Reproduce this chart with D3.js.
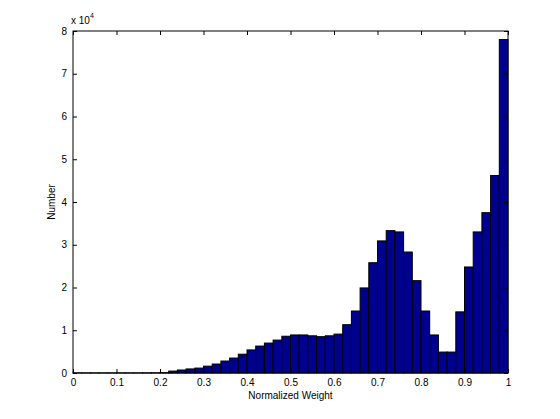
<!DOCTYPE html>
<html>
<head>
<meta charset="utf-8">
<script src="https://cdn.jsdelivr.net/npm/d3@7"></script>
<style>
  html, body { margin: 0; padding: 0; background: #fff; }
  svg text { font-family: "Liberation Sans", Arial, sans-serif; font-size: 10px; fill: #000; }
</style>
</head>
<body>
<svg id="chart" width="560" height="419"></svg>
<script>
// Histogram of normalized weights — 50 bins of width 0.02 over [0, 1].
const binEdges = d3.range(0, 50).map((i) => i * 0.02);
const binWidth = 0.02;
const counts = [
  20, 20, 20, 20, 20, 20, 20, 20, 30, 40,
  80, 450, 700, 950, 1150, 1600, 2100, 2800, 3500, 4400,
  5400, 6300, 7000, 7700, 8600, 8900, 8900, 8700, 8500, 8700,
  9100, 11300, 14500, 19900, 25800, 30900, 33300, 33000, 28300, 21600,
  14500, 8900, 4900, 4900, 14300, 24800, 33000, 37500, 46200, 78000,
];
const xTicks = [0, 0.1, 0.2, 0.3, 0.4, 0.5, 0.6, 0.7, 0.8, 0.9, 1];
const yTicks = [0, 1, 2, 3, 4, 5, 6, 7, 8]; // in units of 10^4
const xLabel = "Normalized Weight";
const yLabel = "Number";

const svg = d3.select("#chart");
const M = { left: 73, right: 508, top: 31, bottom: 373 };

const x = d3.scaleLinear().domain([0, 1]).range([M.left, M.right]);
const y = d3.scaleLinear().domain([0, 80000]).range([M.bottom, M.top]);

// bars
svg.append("g")
  .selectAll("rect")
  .data(counts)
  .join("rect")
  .attr("x", (d, i) => x(binEdges[i]))
  .attr("width", (d, i) => x(binEdges[i] + binWidth) - x(binEdges[i]))
  .attr("y", (d) => y(d))
  .attr("height", (d) => y(0) - y(d))
  .attr("fill", "#00008f")
  .attr("stroke", "#000")
  .attr("stroke-width", 1);

// axis box
svg.append("rect")
  .attr("x", M.left).attr("y", M.top)
  .attr("width", M.right - M.left).attr("height", M.bottom - M.top)
  .attr("fill", "none").attr("stroke", "#000").attr("stroke-width", 1);

const tickLen = 4;

// bottom axis (ticks point inward) + mirrored top ticks
const xAxis = d3.axisBottom(x).tickValues(xTicks).tickSize(-tickLen).tickPadding(6)
  .tickFormat((d) => (d === 0 || d === 1 ? d3.format("d")(d) : d3.format(".1f")(d)));
svg.append("g").attr("transform", `translate(0,${M.bottom})`).call(xAxis)
  .call((g) => g.select(".domain").remove());
svg.append("g").attr("transform", `translate(0,${M.top})`)
  .call(d3.axisTop(x).tickValues(xTicks).tickSize(-tickLen).tickFormat(""))
  .call((g) => g.select(".domain").remove());

// left axis + mirrored right ticks
svg.append("g").attr("transform", `translate(${M.left},0)`)
  .call(d3.axisLeft(y).tickValues(yTicks.map((v) => v * 1e4)).tickSize(-tickLen).tickPadding(6)
    .tickFormat((d) => d / 1e4))
  .call((g) => g.select(".domain").remove());
svg.append("g").attr("transform", `translate(${M.right},0)`)
  .call(d3.axisRight(y).tickValues(yTicks.map((v) => v * 1e4)).tickSize(-tickLen).tickFormat(""))
  .call((g) => g.select(".domain").remove());

svg.selectAll(".tick line").attr("stroke", "#000");
svg.selectAll(".tick text").attr("fill", "#000").style("font-size", "10px")
  .style("font-family", '"Liberation Sans", Arial, sans-serif');

// exponent label
const expo = svg.append("text").attr("x", 71).attr("y", 24);
expo.append("tspan").text("x 10");
expo.append("tspan").attr("dy", -6).style("font-size", "7px").text("4");

// axis labels
svg.append("text")
  .attr("x", (M.left + M.right) / 2).attr("y", 399)
  .attr("text-anchor", "middle")
  .text(xLabel);

svg.append("text")
  .attr("transform", `translate(55,${(M.top + M.bottom) / 2}) rotate(-90)`)
  .attr("text-anchor", "middle")
  .text(yLabel);
</script>
</body>
</html>
